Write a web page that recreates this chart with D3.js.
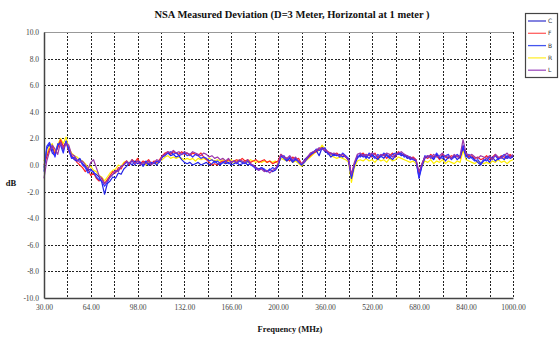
<!DOCTYPE html>
<html>
<head>
<meta charset="utf-8">
<script src="https://cdn.jsdelivr.net/npm/d3@7"></script>
<style>
  html, body { margin: 0; padding: 0; background: #fff; }
  svg { display: block; }
</style>
</head>
<body>
<svg id="chart" width="560" height="339"></svg>
<script>
// Frequency points (MHz): 2 MHz steps up to 200, then 10 MHz steps to 1000
const freqLow = [30,32,34,36,38,40,42,44,46,48,50,52,54,56,58,60,62,64,66,68,
  70,72,74,76,78,80,82,84,86,88,90,92,94,96,98,100,102,104,106,108,
  110,112,114,116,118,120,122,124,126,128,130,132,134,136,138,140,142,144,146,148,
  150,152,154,156,158,160,162,164,166,168,170,172,174,176,178,180,182,184,186,188,
  190,192,194,196,198,200];
const freqHigh = [210,220,230,240,250,260,270,280,290,300,
  310,320,330,340,350,360,370,380,390,400,
  410,420,430,440,450,460,470,480,490,500,
  510,520,530,540,550,560,570,580,590,600,
  610,620,630,640,650,660,670,680,690,700,
  710,720,730,740,750,760,770,780,790,800,
  810,820,830,840,850,860,870,880,890,900,
  910,920,930,940,950,960,970,980,990,1000];
const freq = freqLow.concat(freqHigh);

// Deviation (dB) per antenna position
const seriesC = [
  -0.2, 1.2, 1.6, 0.9, 0.7, 1.5, 1.7, 1.1, 1.8, 1.2,
  0.6, 0.4, 0.3, 0.5, 0.1, -0.1, -0.4, -0.3, -0.6, -0.7,
  -0.9, -1.3, -2.2, -1.4, -1.2, -0.9, -1.0, -0.6, -0.7, -0.3,
  -0.1, 0.2, 0.0, 0.3, 0.1, 0.2, -0.1, 0.2, 0.0, 0.1,
  0.2, 0.0, 0.3, 0.6, 0.8, 0.9, 0.7, 0.8, 0.6, 0.7,
  0.4, 0.2, 0.1, 0.2, 0.0, 0.1, 0.2, 0.0, 0.1, 0.2,
  0.0, 0.1, 0.3, 0.1, 0.0, 0.2, 0.1, 0.2, 0.0, 0.1,
  0.2, 0.0, 0.1, 0.2, 0.0, 0.1, -0.1, -0.2, -0.3, -0.2,
  -0.4, -0.5, -0.3, -0.5, -0.4, -0.1,
  0.7, 0.5, 0.3, 0.5, 0.2, 0.4, 0.3, 0.0, 0.4, 0.6,
  0.8, 1.0, 1.1, 0.7, 1.3, 1.0, 0.9, 0.6, 0.8, 0.7,
  0.8, 0.6, 0.7, 0.3, -1.0, 0.0, 0.5, 0.8, 0.6, 0.7,
  0.5, 0.8, 0.6, 0.4, 0.7, 0.5, 0.8, 0.6, 0.4, 0.7,
  0.9, 0.7, 0.8, 0.5, 0.6, 0.4, 0.3, -1.0, -0.1, 0.5,
  0.7, 0.6, 0.4, 0.8, 0.5, 0.7, 0.3, 0.6, 0.5, 0.7,
  0.4, 0.6, 1.3, 0.7, 0.5, 0.6, 0.4, 0.2, 0.0, 0.3,
  0.5, 0.2, 0.6, 0.3, 0.5, 0.6, 0.4, 0.7, 0.5, 0.6];
const seriesF = [
  0.0, 0.6, 1.2, 1.4, 0.8, 1.3, 1.9, 1.4, 1.7, 1.0,
  0.7, 0.5, 0.2, 0.0, -0.2, -0.5, -0.3, -0.8, -0.6, -1.0,
  -1.2, -1.0, -1.4, -1.1, -0.8, -0.5, -0.6, -0.2, -0.3, 0.1,
  0.3, 0.0, 0.4, 0.2, 0.5, 0.1, 0.3, 0.2, 0.4, 0.1,
  0.3, 0.2, 0.4, 0.7, 0.9, 1.0, 0.8, 1.0, 0.9, 0.8,
  1.0, 0.8, 0.9, 0.7, 0.9, 0.8, 0.7, 0.9, 0.6, 0.4,
  0.2, 0.0, 0.1, 0.0, 0.2, 0.3, 0.2, 0.4, 0.2, 0.3,
  0.4, 0.3, 0.5, 0.3, 0.4, 0.2, 0.3, 0.4, 0.2, 0.3,
  0.4, 0.2, 0.3, 0.1, 0.2, 0.3,
  0.8, 0.6, 0.5, 0.3, 0.6, 0.4, 0.5, 0.1, 0.3, 0.5,
  0.7, 0.9, 1.0, 1.2, 1.3, 1.2, 1.0, 0.9, 0.8, 0.9,
  0.7, 0.8, 0.6, 0.4, -0.8, 0.1, 0.6, 0.7, 0.9, 0.6,
  0.8, 0.6, 0.9, 0.5, 0.7, 0.8, 0.5, 0.7, 0.9, 0.6,
  1.0, 0.8, 0.7, 0.6, 0.5, 0.6, 0.4, -0.7, 0.1, 0.6,
  0.5, 0.8, 0.6, 0.7, 0.4, 0.8, 0.6, 0.5, 0.7, 0.6,
  0.7, 0.5, 1.4, 0.8, 0.6, 0.7, 0.5, 0.6, 0.4, 0.5,
  0.7, 0.4, 0.6, 0.8, 0.5, 0.7, 0.6, 0.5, 0.8, 0.6];
const seriesB = [
  -0.5, 1.4, 1.7, 1.2, 0.6, 1.6, 1.5, 0.9, 1.8, 1.1,
  0.5, 0.6, 0.3, 0.4, 0.0, -0.2, -0.6, -0.4, -0.5, -0.9,
  -1.1, -1.2, -1.6, -1.3, -0.9, -0.7, -0.5, -0.4, -0.1, 0.0,
  0.2, 0.1, 0.3, 0.0, 0.3, 0.2, 0.0, 0.3, 0.1, 0.2,
  0.1, 0.3, 0.2, 0.6, 0.7, 0.9, 1.0, 0.8, 0.9, 0.7,
  0.8, 0.9, 0.7, 0.8, 0.6, 0.8, 0.7, 0.5, 0.6, 0.5,
  0.3, 0.4, 0.2, 0.3, 0.1, 0.2, 0.3, 0.1, 0.2, 0.3,
  0.1, 0.3, 0.2, 0.1, 0.3, 0.0, -0.1, -0.3, -0.4, -0.2,
  -0.3, -0.5, -0.4, -0.2, -0.3, 0.0,
  0.6, 0.7, 0.4, 0.6, 0.3, 0.5, 0.2, 0.0, 0.2, 0.5,
  0.8, 0.9, 1.2, 1.1, 1.2, 1.3, 0.8, 0.9, 0.7, 0.8,
  0.6, 0.9, 0.7, 0.5, -0.9, 0.0, 0.7, 0.6, 0.8, 0.5,
  0.9, 0.7, 0.5, 0.8, 0.6, 0.9, 0.7, 0.5, 0.8, 0.9,
  0.8, 0.9, 0.6, 0.7, 0.4, 0.5, 0.3, -0.9, 0.0, 0.7,
  0.6, 0.7, 0.5, 0.9, 0.6, 0.5, 0.7, 0.8, 0.4, 0.6,
  0.8, 0.6, 1.5, 0.6, 0.8, 0.5, 0.3, 0.4, 0.1, 0.4,
  0.3, 0.6, 0.5, 0.7, 0.4, 0.6, 0.8, 0.5, 0.6, 0.7];
const seriesR = [
  0.3, 0.8, 1.4, 1.6, 1.0, 1.5, 2.0, 1.6, 2.1, 1.3,
  0.9, 0.7, 0.6, 0.4, 0.3, 0.1, -0.2, -0.1, -0.4, -0.5,
  -0.8, -0.9, -1.2, -0.9, -0.6, -0.4, -0.3, 0.0, -0.1, 0.2,
  0.3, 0.1, 0.4, 0.2, 0.3, 0.1, 0.2, 0.0, 0.2, 0.1,
  0.2, 0.1, 0.3, 0.4, 0.6, 0.7, 0.5, 0.6, 0.5, 0.6,
  0.5, 0.4, 0.5, 0.4, 0.5, 0.3, 0.5, 0.4, 0.5, 0.4,
  0.5, 0.4, 0.3, 0.4, 0.3, 0.4, 0.2, 0.3, 0.4, 0.2,
  0.3, 0.4, 0.2, 0.3, 0.2, 0.4, 0.3, 0.2, 0.3, 0.2,
  0.3, 0.2, 0.3, 0.2, 0.3, 0.1,
  0.5, 0.4, 0.3, 0.5, 0.2, 0.3, 0.1, -0.1, 0.2, 0.4,
  0.6, 0.8, 1.0, 1.1, 1.5, 1.2, 0.9, 0.7, 0.6, 0.5,
  0.6, 0.5, 0.4, 0.2, -1.3, -0.2, 0.3, 0.4, 0.3, 0.5,
  0.3, 0.4, 0.2, 0.5, 0.3, 0.4, 0.2, 0.5, 0.3, 0.4,
  0.6, 0.5, 0.4, 0.3, 0.2, 0.3, 0.1, -0.6, -0.1, 0.3,
  0.2, 0.4, 0.1, 0.3, 0.2, 0.4, 0.1, 0.3, 0.2, 0.1,
  0.3, 0.2, 1.1, 0.4, 0.3, 0.2, 0.1, 0.3, 0.2, 0.1,
  0.2, 0.1, 0.3, 0.2, 0.4, 0.2, 0.3, 0.1, 0.3, 0.4];
const seriesL = [
  -1.0, 0.3, 1.0, 1.5, 1.2, 0.8, 1.7, 1.2, 1.6, 1.5,
  0.8, 0.7, 0.4, 0.2, 0.3, 0.0, -0.3, 0.2, 0.4, -0.2,
  -0.8, -1.0, -1.4, -1.2, -0.9, -0.7, -0.4, -0.5, -0.1, 0.0,
  0.3, 0.1, 0.4, 0.1, 0.3, 0.0, 0.2, 0.1, 0.3, 0.0,
  0.2, 0.4, 0.3, 0.7, 0.8, 1.0, 0.9, 1.1, 0.9, 1.0,
  0.8, 1.0, 0.9, 0.8, 1.0, 0.9, 0.8, 0.7, 0.9, 0.8,
  0.6, 0.7, 0.5, 0.6, 0.4, 0.5, 0.3, 0.5, 0.2, 0.3,
  0.2, 0.4, 0.3, 0.2, 0.4, 0.1, 0.0, -0.2, -0.4, -0.3,
  -0.5, -0.4, -0.6, -0.4, -0.3, 0.1,
  0.8, 0.6, 0.5, 0.7, 0.4, 0.6, 0.3, 0.1, 0.3, 0.6,
  0.9, 1.0, 1.1, 1.3, 1.2, 1.1, 1.0, 0.8, 0.9, 0.8,
  0.7, 0.8, 0.6, 0.4, -0.7, 0.2, 0.8, 0.9, 0.7, 0.8,
  0.7, 0.9, 0.8, 0.6, 0.8, 0.7, 0.9, 0.8, 0.6, 0.8,
  0.9, 1.0, 0.8, 0.7, 0.6, 0.5, 0.4, -0.5, 0.1, 0.6,
  0.7, 0.5, 0.8, 0.6, 0.7, 0.9, 0.6, 0.7, 0.5, 0.8,
  0.6, 0.7, 1.9, 0.9, 0.7, 0.8, 0.6, 0.5, 0.7, 0.6,
  0.5, 0.7, 0.4, 0.8, 0.6, 0.5, 0.7, 0.9, 0.6, 0.8];

const legendNames = ["C", "F", "B", "R", "L"];
const xTickValues = [30, 64, 98, 132, 166, 200, 360, 520, 680, 840, 1000];
const yTickValues = [-10, -8, -6, -4, -2, 0, 2, 4, 6, 8, 10];

const colors = { C: "#2222e6", F: "#ff2020", B: "#3030ff", R: "#ffee00", L: "#9933aa" };
const legendColors = { C: "#4040d0", F: "#ff6060", B: "#4455ee", R: "#ffee33", L: "#a050c0" };
const seriesByName = { C: seriesC, F: seriesF, B: seriesB, R: seriesR, L: seriesL };

const svg = d3.select("#chart");
const plot = { left: 44, right: 513, top: 32, bottom: 298 };

// Two linear segments: 30-200 MHz and 200-1000 MHz share the width equally
const x = d3.scaleLinear().domain([30, 200, 1000]).range([plot.left, 278, plot.right]);
const y = d3.scaleLinear().domain([-10, 10]).range([plot.bottom, plot.top]);

// Minor vertical grid halfway between labelled frequencies
const xGrid = [];
xTickValues.forEach((v, i) => {
  if (i > 0) xGrid.push((xTickValues[i - 1] + v) / 2);
  if (i > 0) xGrid.push(v);
});

const grid = svg.append("g").attr("stroke", "#222").attr("stroke-width", 1)
  .attr("stroke-dasharray", "2,1.5").attr("shape-rendering", "crispEdges");
grid.selectAll("line.v").data(xGrid).join("line")
  .attr("x1", d => Math.round(x(d)) + 0.5).attr("x2", d => Math.round(x(d)) + 0.5)
  .attr("y1", plot.top).attr("y2", plot.bottom);
grid.selectAll("line.h").data(yTickValues.filter(v => v > -10 && v < 10)).join("line")
  .attr("x1", plot.left).attr("x2", plot.right)
  .attr("y1", d => Math.round(y(d)) + 0.5).attr("y2", d => Math.round(y(d)) + 0.5);

// Top border
svg.append("line").attr("x1", plot.left).attr("x2", plot.right)
  .attr("y1", plot.top + 0.5).attr("y2", plot.top + 0.5)
  .attr("stroke", "#999").attr("stroke-width", 1);

// Curves
const line = d3.line().x((d, i) => x(freq[i])).y(d => y(d));
const drawOrder = ["R", "F", "C", "B", "L"];
svg.append("g").selectAll("path").data(drawOrder).join("path")
  .attr("d", n => line(seriesByName[n]))
  .attr("fill", "none")
  .attr("stroke", n => colors[n])
  .attr("stroke-width", 1.2)
  .attr("stroke-linejoin", "round");

// Axes
const axisFont = "'Liberation Serif', serif";
const yAxis = svg.append("g").attr("transform", `translate(${plot.left},0)`)
  .call(d3.axisLeft(y).tickValues(yTickValues).tickSize(0).tickPadding(5)
    .tickFormat(d => d.toFixed(1)));
const xAxis = svg.append("g").attr("transform", `translate(0,${plot.bottom})`)
  .call(d3.axisBottom(x).tickValues(xTickValues).tickSize(0).tickPadding(7)
    .tickFormat(d => d.toFixed(2)));
[yAxis, xAxis].forEach(a => {
  a.select(".domain").attr("stroke", "#444").attr("stroke-width", 1.5);
  a.selectAll("text").attr("font-family", axisFont).attr("font-size", 7.5).attr("fill", "#444");
});

// Titles
svg.append("text").attr("x", 292).attr("y", 18).attr("text-anchor", "middle")
  .attr("font-family", "'Liberation Serif', serif").attr("font-weight", "bold")
  .attr("font-size", 10.5).attr("fill", "#111")
  .text("NSA Measured Deviation (D=3  Meter, Horizontal at 1 meter )");
svg.append("text").attr("x", 290).attr("y", 332).attr("text-anchor", "middle")
  .attr("font-family", "'Liberation Serif', serif").attr("font-weight", "bold")
  .attr("font-size", 8.5).attr("fill", "#111").text("Frequency (MHz)");
svg.append("text").attr("x", 11).attr("y", 186).attr("text-anchor", "middle")
  .attr("font-family", "'Liberation Serif', serif").attr("font-weight", "bold")
  .attr("font-size", 8.5).attr("fill", "#111").text("dB");

// Legend
const legend = svg.append("g");
legend.append("rect").attr("x", 525.5).attr("y", 13.5).attr("width", 32).attr("height", 64)
  .attr("fill", "#fff").attr("stroke", "#444").attr("stroke-width", 1.2);
const items = legend.selectAll("g.item").data(legendNames).join("g")
  .attr("transform", (d, i) => `translate(0,${21 + i * 12.3})`);
items.append("line").attr("x1", 528).attr("x2", 546).attr("y1", 0).attr("y2", 0)
  .attr("stroke", d => legendColors[d]).attr("stroke-width", 1.3);
items.append("text").attr("x", 548).attr("y", 2).attr("font-family", "'DejaVu Sans', sans-serif")
  .attr("font-size", 6).attr("fill", "#333").text(d => d);
</script>
</body>
</html>
